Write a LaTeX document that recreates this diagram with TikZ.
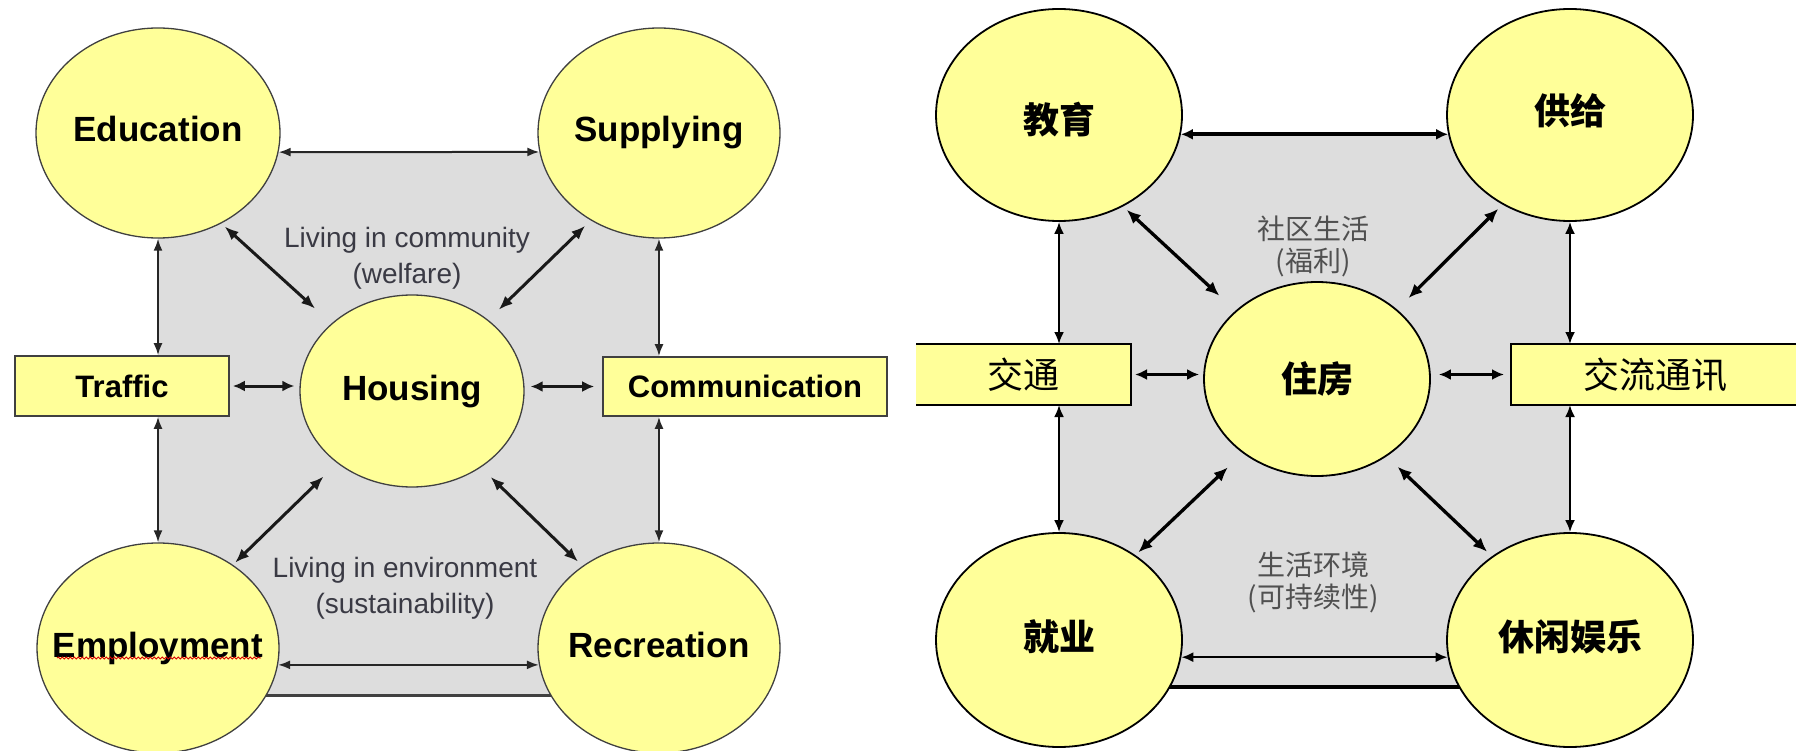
\documentclass[tikz,border=0pt]{standalone}
\usepackage{fontspec}
\setmainfont{Liberation Sans}
\newfontfamily\cjk{Noto Sans CJK SC}
\usetikzlibrary{shapes.geometric,arrows.meta,decorations.pathmorphing}
\definecolor{yel}{HTML}{FFFF99}
\definecolor{bgray}{HTML}{DDDDDD}
\definecolor{edge}{HTML}{404040}
\definecolor{txtgray}{HTML}{3A3A44}
\definecolor{cntxt}{HTML}{505050}
\begin{document}
\begin{tikzpicture}[x=1pt,y=-1pt,
  circ/.style={ellipse, fill=yel, draw=edge, line width=1.3pt, inner ysep=0pt, inner xsep=-30pt,
    text height=25pt, text depth=7pt, font=\bfseries\fontsize{35}{40}\selectfont},
  circR/.style={ellipse, fill=yel, draw=black, line width=1.8pt, inner ysep=0pt, inner xsep=-20pt,
    text height=30pt, text depth=10pt, font=\cjk\bfseries\fontsize{36}{40}\selectfont},
  boxL/.style={rectangle, fill=yel, draw=edge, line width=1.6pt, inner sep=0pt,
    font=\bfseries\fontsize{31}{36}\selectfont},
  boxR/.style={rectangle, fill=yel, inner sep=0pt, outer sep=0pt,
    font=\cjk\fontsize{36}{40}\selectfont},
  smalltxt/.style={align=center, inner sep=0pt, text=txtgray,
    font=\fontsize{28}{36}\selectfont},
  smallcn/.style={align=center, inner sep=0pt, text=cntxt,
    font=\cjk\fontsize{28}{32}\selectfont},
  arr/.style={{Latex[length=12pt,width=9pt]}-{Latex[length=12pt,width=9pt]}, line width=2pt, draw=black!85},
  arrthick/.style={{Latex[length=12pt,width=11pt]}-{Latex[length=12pt,width=11pt]}, line width=3pt, draw=black!90},
  arrdiag/.style={{Latex[length=14pt,width=11pt]}-{Latex[length=14pt,width=11pt]}, line width=3pt, draw=black!90},
  arrR/.style={{Latex[length=12pt,width=10pt]}-{Latex[length=12pt,width=10pt]}, line width=2.3pt, draw=black},
  arrRtop/.style={{Latex[length=12pt,width=11pt]}-{Latex[length=12pt,width=11pt]}, line width=4pt, draw=black},
  arrRthick/.style={{Latex[length=12pt,width=11pt]}-{Latex[length=12pt,width=11pt]}, line width=3.3pt, draw=black},
  arrRdiag/.style={{Latex[length=14pt,width=12pt]}-{Latex[length=14pt,width=12pt]}, line width=3.3pt, draw=black}
]
\useasboundingbox (0,0) rectangle (1796,751);
\clip (0,0) rectangle (1796,751);

% ---------------- left diagram ----------------
\fill[bgray] (158,152) rectangle (659,695);
\draw[edge, line width=3pt] (158,695) -- (659,695);

\node[circ, minimum width=244pt, minimum height=210pt] (edu) at (158,133) {Education};
\node[circ, minimum width=242pt, minimum height=210pt] (sup) at (659,133) {Supplying};
\node[circ, minimum width=224pt, minimum height=192pt] (hou) at (412,391) {Housing};
\node[circ, minimum width=242pt, minimum height=210pt] (emp) at (158,648) {Employment};
\node[circ, minimum width=242pt, minimum height=210pt] (rec) at (659,648) {Recreation};
\node[boxL, minimum width=214pt, minimum height=60pt] (traffic) at (122,386) {Traffic};
\node[boxL, minimum width=284pt, minimum height=59pt] (comm) at (745,386.5) {Communication};

\draw[red!85!black, line width=0.8pt, decorate,
  decoration={snake, amplitude=1.1pt, segment length=4pt}]
  ([xshift=-101pt,yshift=-10pt]emp.center) -- ([xshift=103pt,yshift=-10pt]emp.center);

\node[smalltxt] (welf) at (407,258) {Living in community\\(welfare)};
\node[smalltxt] (sust) at (405,588) {Living in environment\\(sustainability)};

\draw[arr] (edu.-9) -- (sup.189);
\draw[arr] (emp.-8) -- (rec.188);
\draw[arr] (edu.south) -- (edu.south |- traffic.north);
\draw[arr] (emp.north |- traffic.south) -- (emp.north);
\draw[arr] (sup.south) -- (sup.south |- comm.north);
\draw[arr] (rec.north |- comm.south) -- (rec.north);
\draw[arrthick, shorten <=3pt, shorten >=5pt] (traffic.east) -- (traffic.east -| hou.west);
\draw[arrthick, shorten <=6pt, shorten >=8pt] (hou.east |- comm.west) -- (comm.west);
\draw[arrdiag, shorten <=4.5pt, shorten >=22pt] (edu.-55.3) -- (hou.140.1);
\draw[arrdiag, shorten <=7.6pt, shorten >=14.6pt] (sup.232.9) -- (hou.43.3);
\draw[arrdiag, shorten <=19pt, shorten >=3pt] (hou.224.7) -- (emp.48.9);
\draw[arrdiag, shorten <=13.5pt, shorten >=6pt] (hou.-48.9) -- (rec.133.6);

% ---------------- right diagram ----------------
\fill[bgray] (1059,135) rectangle (1570,687);
\draw[black, line width=4pt] (1059,687) -- (1570,687);

\node[circR, minimum width=246pt, minimum height=212pt, text height=42pt, text depth=4pt] (jy) at (1059,115) {教育};
\node[circR, minimum width=246pt, minimum height=212pt] (gg) at (1570,115) {供给};
\node[circR, minimum width=226pt, minimum height=194pt, text height=30pt, text depth=4pt] (zf) at (1317,379) {住房};
\node[circR, minimum width=246pt, minimum height=214pt] (jiuye) at (1059,640) {就业};
\node[circR, minimum width=246pt, minimum height=214pt] (xx) at (1570,640) {休闲娱乐};
\node[boxR, minimum width=215pt, minimum height=61pt] (jt) at (1023.5,374.5) {交通};
\node[boxR, minimum width=289pt, minimum height=61pt] (jl) at (1655.5,374.5) {交流通讯};
\draw[black, line width=1.5pt] (jt.north west) -- (jt.north east) -- (jt.south east) -- (jt.south west);
\draw[black, line width=1.5pt] (jl.north east) -- (jl.north west) -- (jl.south west) -- (jl.south east);

\node[smallcn] (fuli) at (1313,246) {社区生活\\(福利)};
\node[smallcn] (kcx) at (1313,582) {生活环境\\(可持续性)};

\draw[arrRtop] (jy.-9.4) -- (gg.189.4);
\draw[arrR] (jiuye.-8.9) -- (xx.188.9);
\draw[arrR] (jy.south) -- (jy.south |- jt.north);
\draw[arrR] (jiuye.north |- jt.south) -- (jiuye.north);
\draw[arrR] (gg.south) -- (gg.south |- jl.north);
\draw[arrR] (xx.north |- jl.south) -- (xx.north);
\draw[arrRthick, shorten <=4pt, shorten >=4pt] (jt.east) -- (jt.east -| zf.west);
\draw[arrRthick, shorten <=8pt, shorten >=7pt] (zf.east |- jl.west) -- (jl.west);
\draw[arrRdiag, shorten <=5pt, shorten >=22pt] (jy.-55.2) -- (zf.140.7);
\draw[arrRdiag, shorten <=6pt, shorten >=16pt] (gg.233.3) -- (zf.41.3);
\draw[arrRdiag, shorten <=20.6pt, shorten >=4pt] (zf.225.7) -- (jiuye.48.8);
\draw[arrRdiag, shorten <=15pt, shorten >=6.6pt] (zf.-48.1) -- (xx.133);
\end{tikzpicture}
\end{document}
